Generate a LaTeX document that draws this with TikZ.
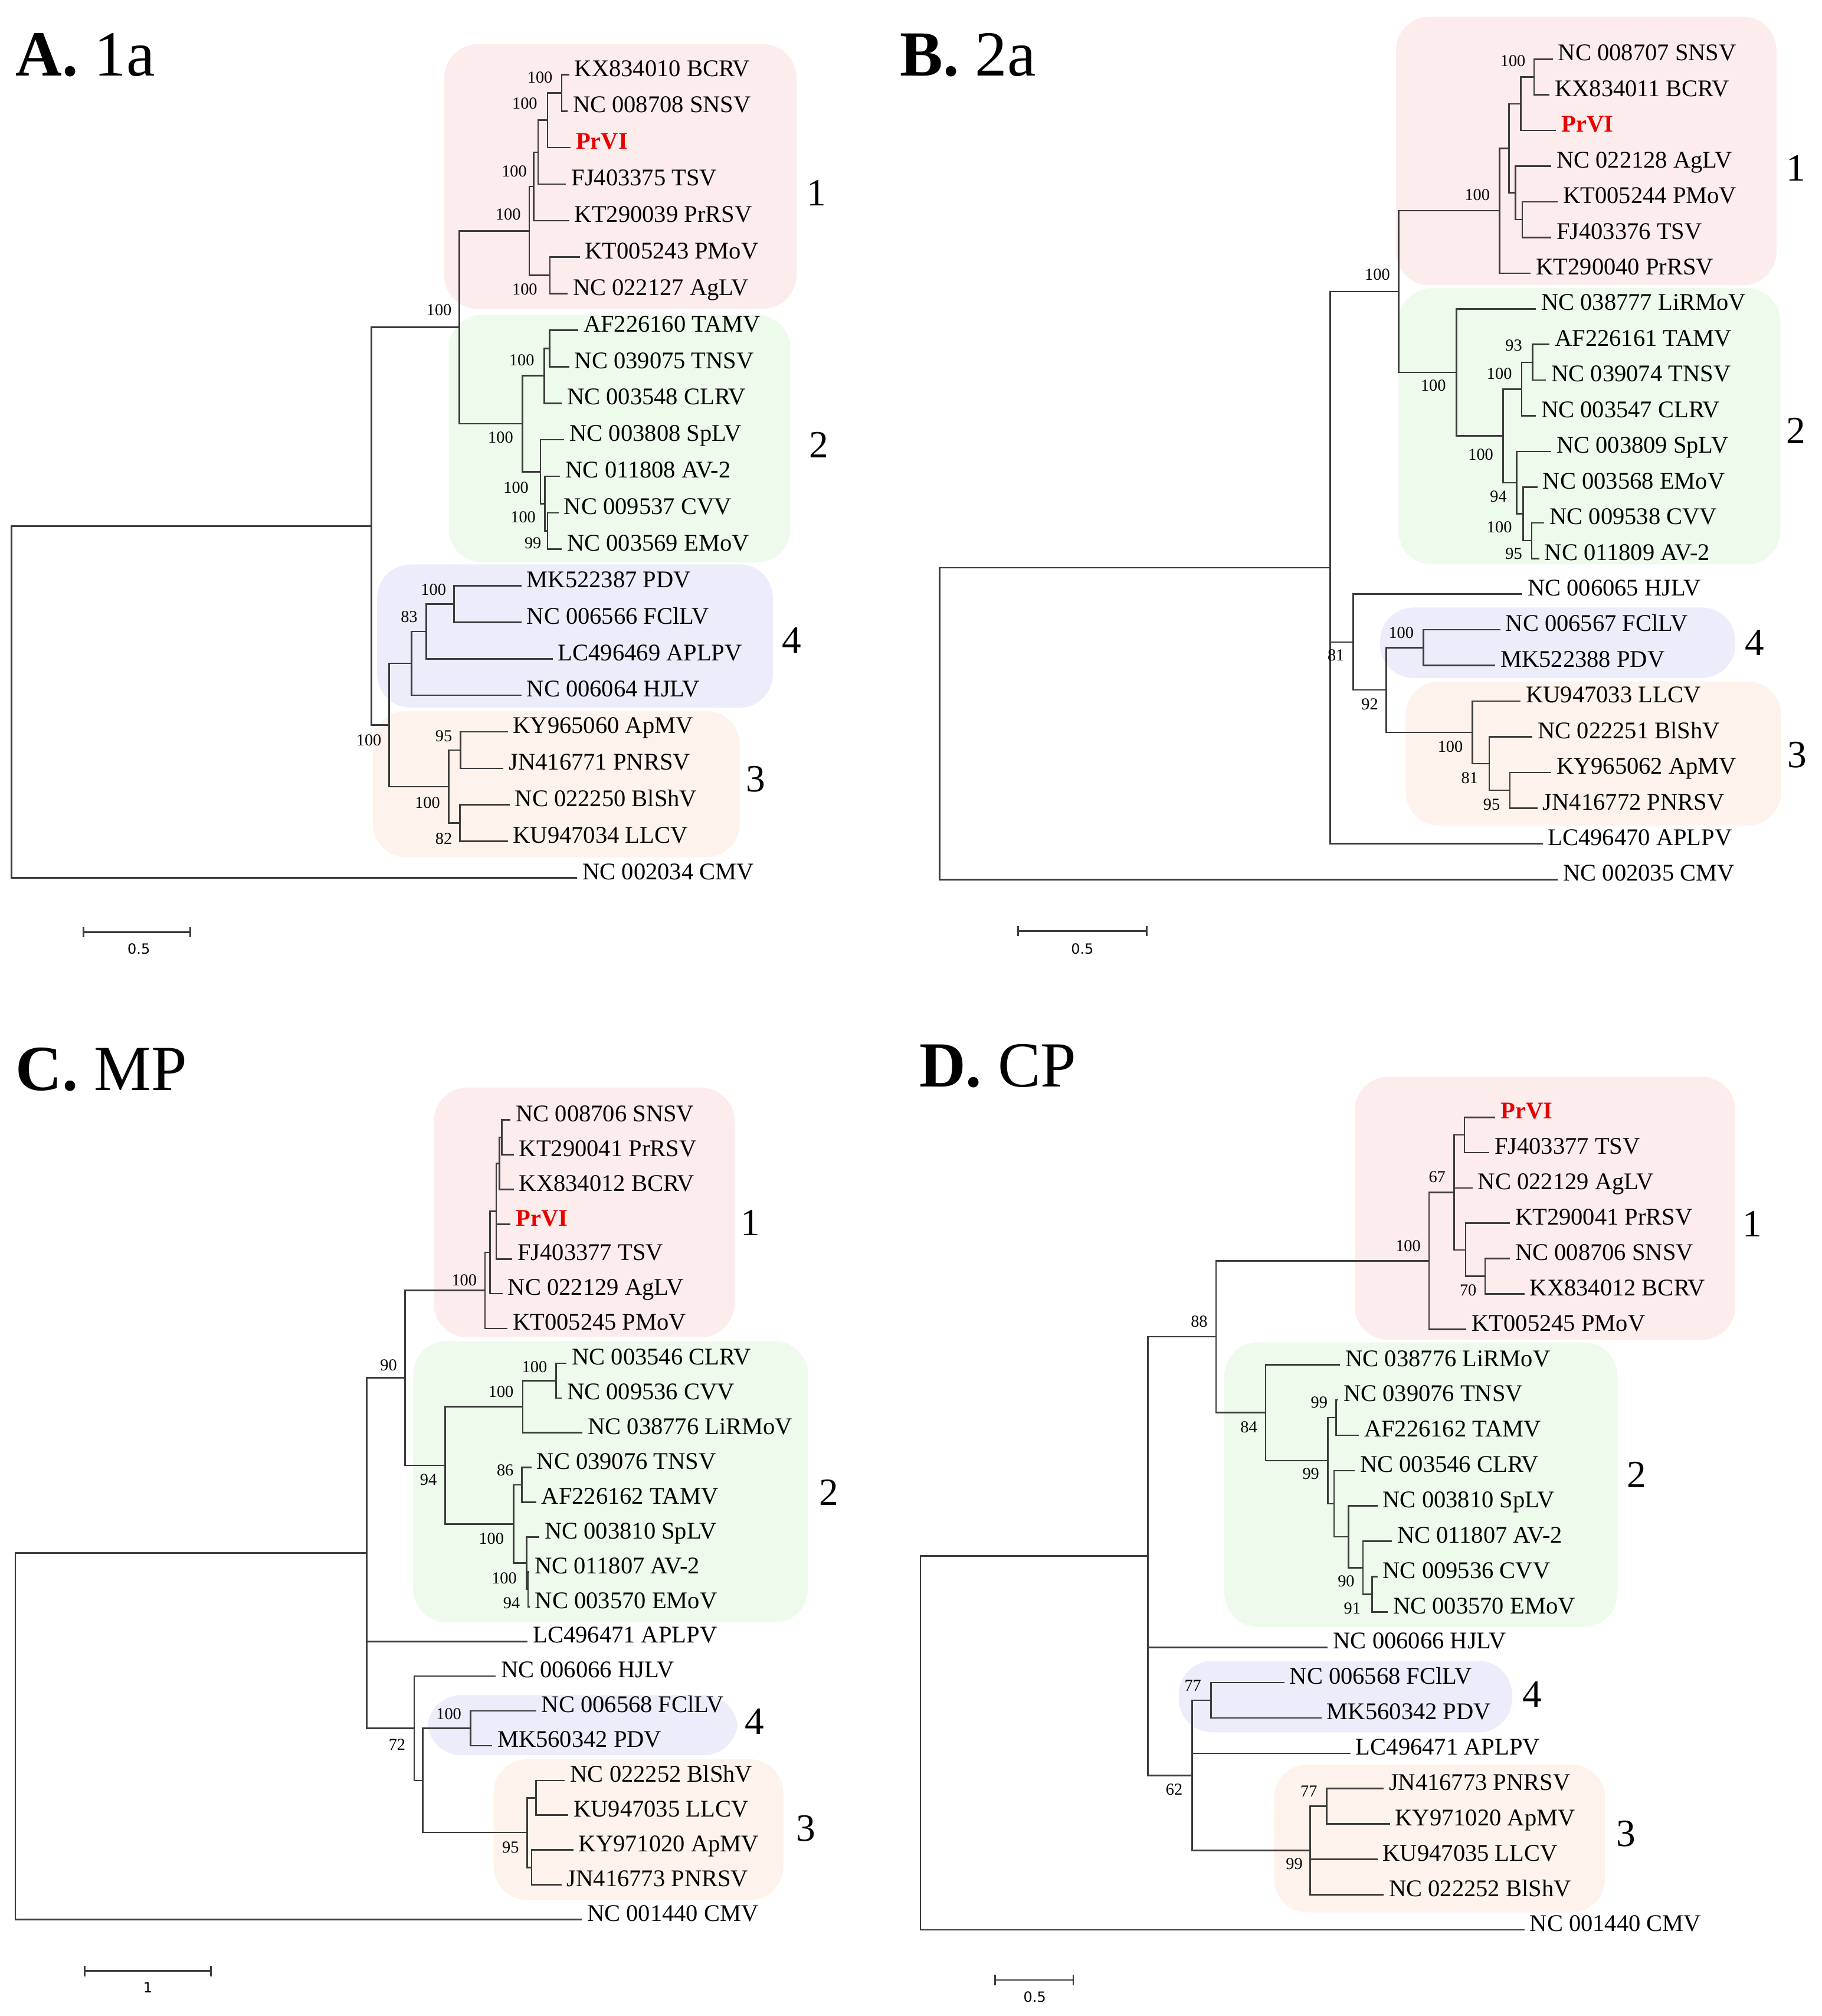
\documentclass[tikz,border=0pt]{standalone}
\usepackage{fontspec}
\setmainfont{Liberation Serif}
\newfontfamily\barfont{DejaVu Sans}
\definecolor{boxpink}{RGB}{253,236,236}
\definecolor{boxgreen}{RGB}{238,251,236}
\definecolor{boxlav}{RGB}{236,236,251}
\definecolor{boxpeach}{RGB}{253,243,236}
\definecolor{prvired}{RGB}{232,0,0}
\definecolor{branchgray}{RGB}{60,60,60}
\newcommand{\prvi}{\textcolor{prvired}{\bfseries PrVI}}
\tikzset{
  br/.style={draw=branchgray,line width=1.2pt},
  leaf/.style={anchor=west,inner xsep=4pt,inner ysep=0pt,text height=0.25em,text depth=0pt,font=\fontsize{18.6}{20}\selectfont},
  bs/.style={anchor=east,inner sep=0pt,font=\fontsize{13}{14}\selectfont},
  clade/.style={inner sep=0pt,font=\fontsize{30}{32}\selectfont},
  panel/.style={anchor=west,inner sep=0pt,font=\fontsize{50}{52}\selectfont},
  grp/.style={rounded corners=26pt},
  sbar/.style={inner sep=0pt,font=\barfont\fontsize{11}{12}\selectfont}
}
\begin{document}
\begin{tikzpicture}[x=1pt,y=-1pt]
\useasboundingbox (0,0) rectangle (1417,1568);
% group backgrounds
\fill[boxpink,grp](345.6,34.4)rectangle(619.6,240.2);
\fill[boxgreen,grp](349.1,244.8)rectangle(614.9,437.5);
\fill[boxlav,grp](293.4,439)rectangle(601.3,550.4);
\fill[boxpeach,grp](289.9,552.9)rectangle(575.5,666.8);
\fill[boxpink,grp](1086,13)rectangle(1382,221.8);
\fill[boxgreen,grp](1088,224)rectangle(1385,439);
\fill[boxlav,grp](1073.6,472.5)rectangle(1350,527.3);
\fill[boxpeach,grp](1093.5,530)rectangle(1385.8,642);
\fill[boxpink,grp](337.5,845.9)rectangle(571.4,1040);
\fill[boxgreen,grp](321.4,1043)rectangle(628.5,1262);
\fill[boxlav,grp](332.7,1318.4)rectangle(573.8,1365.1);
\fill[boxpeach,grp](384,1368.3)rectangle(609.4,1477.7);
\fill[boxpink,grp](1053.9,837.5)rectangle(1350,1042);
\fill[boxgreen,grp](952.5,1044)rectangle(1258.3,1265.3);
\fill[boxlav,grp](917,1291.8)rectangle(1176.3,1347.4);
\fill[boxpeach,grp](991.1,1372.4)rectangle(1248.7,1487.5);

% A. 1a
\node[panel](tA)at(12,43){\textbf{A.} 1a};
\foreach \i/\x/\t in {1/442.8/KX834010 BCRV,2/441.5/NC 008708 SNSV,3/443.8/\prvi,
  4/440.4/FJ403375 TSV,5/442.8/KT290039 PrRSV,6/451/KT005243 PMoV,7/441.5/NC 022127 AgLV,
  8/449.8/AF226160 TAMV,9/442.8/NC 039075 TNSV,10/437/NC 003548 CLRV,11/439/NC 003808 SpLV,
  12/435.8/NC 011808 AV-2,13/434.6/NC 009537 CVV,14/437/NC 003569 EMoV,15/405.6/MK522387 PDV,
  16/405.6/NC 006566 FClLV,17/430/LC496469 APLPV,18/405.6/NC 006064 HJLV,19/395/KY965060 ApMV,
  20/391.7/JN416771 PNRSV,21/396.4/NC 022250 BlShV,22/395/KU947034 LLCV,23/449/NC 002034 CMV}
  \node[leaf](A\i)at(\x,{58+28.4*(\i-1)}){\t};
\foreach \n/\x/\y in {Aa/437/72.2,Ab/426/93.5,Ac/418.7/118.4,Ad/415.3/145,Af/427.8/214.2,
  Ae/411.8/179.6,Ag/427.5/271,Ah/423.3/292.3,Ak/426/413,Aj/424/391.7,Ai/420.5/366.9,
  Al/406.5/329.6,Am/357.3/254.6,An/353.1/469.8,Ao/331.5/491.1,Ap/320.3/516,Aq/358.2/583.4,
  Ar/357.8/640.2,As/349/611.8,At/302.8/563.9,Au/289/409.3,Av/9/546}
  \coordinate(\n)at(\x,\y);
\foreach \p/\c in {Aa/A1.west,Aa/A2.west,Ab/Aa,Ab/A3.west,Ac/Ab,Ac/A4.west,Ad/Ac,Ad/A5.west,
  Af/A6.west,Af/A7.west,Ae/Ad,Ae/Af,Ag/A8.west,Ag/A9.west,Ah/Ag,Ah/A10.west,Ak/A13.west,
  Ak/A14.west,Aj/A12.west,Aj/Ak,Ai/A11.west,Ai/Aj,Al/Ah,Al/Ai,Am/Ae,Am/Al,An/A15.west,
  An/A16.west,Ao/An,Ao/A17.west,Ap/Ao,Ap/A18.west,Aq/A19.west,Aq/A20.west,Ar/A21.west,
  Ar/A22.west,As/Aq,As/Ar,At/Ap,At/As,Au/Am,Au/At,Av/Au,Av/A23.west}
  \draw[br](\p)|-(\c);
\foreach \k/\x/\y/\v in {1/430/60.4/100,2/418.2/80.3/100,3/410/133.1/100,4/405.3/166.7/100,
  5/418.2/224.9/100,6/351.5/240.9/100,7/415.8/280/100,8/399.4/340.4/100,9/411.4/379.4/100,
  10/416.9/402.3/100,11/421.3/422.2/99,12/347.2/458.6/100,13/325/479.8/83,14/296.9/575.9/100,
  15/351.9/572.5/95,16/342.5/624.3/100,17/351.9/652.4/82}
  \node[bs](Abs\k)at(\x,\y){\v};
\node[clade](Ag1)at(635,150){1};
\node[clade](Ag2)at(637,346){2};
\node[clade](Ag4)at(616,498){4};
\node[clade](Ag3)at(588,606){3};
\coordinate(sbA1)at(65,725);\coordinate(sbA2)at(148,725);
\draw[br](sbA1)--(sbA2);
\draw[br](65,721)--(65,729)(148,721)--(148,729);
\node[sbar](sbA)at(108,738){0.5};

% B. 2a
\node[panel](tB)at(700,43){\textbf{B.} 2a};
\foreach \i/\x/\t in {1/1208/NC 008707 SNSV,2/1205.4/KX834011 BCRV,3/1210.6/\prvi,
  4/1206.7/NC 022128 AgLV,5/1211.9/KT005244 PMoV,6/1206.7/FJ403376 TSV,7/1190.9/KT290040 PrRSV,
  8/1194.8/NC 038777 LiRMoV,9/1205.4/AF226161 TAMV,10/1202.7/NC 039074 TNSV,
  11/1194.8/NC 003547 CLRV,12/1206.7/NC 003809 SpLV,13/1196.1/NC 003568 EMoV,
  14/1201.4/NC 009538 CVV,15/1197.4/NC 011809 AV-2,16/1184.3/NC 006065 HJLV,
  17/1167.1/NC 006567 FClLV,18/1163.2/MK522388 PDV,19/1183/KU947033 LLCV,
  20/1192.2/NC 022251 BlShV,21/1206.7/KY965062 ApMV,22/1196.1/JN416772 PNRSV,
  23/1200.1/LC496470 APLPV,24/1211.9/NC 002035 CMV}
  \node[leaf](B\i)at(\x,{46+27.74*(\i-1)}){\t};
\foreach \n/\x/\y in {Ba/1193.5/59.9,Bb/1183/80.7,Bc/1184.3/170.8,Bd/1179/150,Be/1173.8/115.4,
  Bf/1166.6/163.9,Bg/1192.2/281.8,Bh/1183.8/302.6,Bi/1191.6/420.5,Bj/1184.8/399.7,
  Bk/1179.8/375.4,Bl/1169.3/339,Bm/1133/289.6,Bn/1088/226.8,Bo/1107.5/503.7,Bp/1174.6/614.7,
  Bq/1158.5/593.9,Br/1145.5/569.6,Bs/1078.4/536.6,Bt/1052.6/499.4,Bu/1034.9/441.5,Bv/731/562.8}
  \coordinate(\n)at(\x,\y);
\foreach \p/\c in {Ba/B1.west,Ba/B2.west,Bb/Ba,Bb/B3.west,Bc/B5.west,Bc/B6.west,Bd/B4.west,
  Bd/Bc,Be/Bb,Be/Bd,Bf/Be,Bf/B7.west,Bg/B9.west,Bg/B10.west,Bh/Bg,Bh/B11.west,Bi/B14.west,
  Bi/B15.west,Bj/B13.west,Bj/Bi,Bk/B12.west,Bk/Bj,Bl/Bh,Bl/Bk,Bm/B8.west,Bm/Bl,Bn/Bf,Bn/Bm,
  Bo/B17.west,Bo/B18.west,Bp/B21.west,Bp/B22.west,Bq/B20.west,Bq/Bp,Br/B19.west,Br/Bq,
  Bs/Bo,Bs/Br,Bt/B16.west,Bt/Bs,Bu/Bn,Bu/Bt,Bu/B23.west,Bv/Bu,Bv/B24.west}
  \draw[br](\p)|-(\c);
\foreach \k/\x/\y/\v in {1/1186.9/47.4/100,2/1159.2/151.4/100,3/1081.5/213.4/100,
  4/1184.3/268.5/93,5/1176.4/290.6/100,6/1125/299.8/100,7/1161.9/353.4/100,8/1172.4/386.3/94,
  9/1176.4/410/100,10/1184.3/430.6/95,11/1046/509.4/81,12/1100/492.2/100,13/1072.3/547.9/92,
  14/1138.2/580.7/100,15/1150/605.3/81,16/1167.1/625.8/95}
  \node[bs](Bbs\k)at(\x,\y){\v};
\node[clade](Bg1)at(1397,131){1};
\node[clade](Bg2)at(1397,335){2};
\node[clade](Bg4)at(1365,500){4};
\node[clade](Bg3)at(1398,587){3};
\coordinate(sbB1)at(792,724);\coordinate(sbB2)at(892,724);
\draw[br](sbB1)--(sbB2);
\draw[br](792,720)--(792,728)(892,720)--(892,728);
\node[sbar](sbB)at(842,738){0.5};

% C. MP
\node[panel](tC)at(12,832){\textbf{C.} MP};
\foreach \i/\x/\t in {1/397.2/NC 008706 SNSV,2/399.7/KT290041 PrRSV,3/399.7/KX834012 BCRV,
  4/397.2/\prvi,5/398.5/FJ403377 TSV,6/391/NC 022129 AgLV,7/394.8/KT005245 PMoV,
  8/440.8/NC 003546 CLRV,9/437/NC 009536 CVV,10/453.2/NC 038776 LiRMoV,11/413.4/NC 039076 TNSV,
  12/417.1/AF226162 TAMV,13/419.6/NC 003810 SpLV,14/411.7/NC 011807 AV-2,15/412.1/NC 003570 EMoV,
  16/410.5/LC496471 APLPV,17/385.5/NC 006066 HJLV,18/417.1/NC 006568 FClLV,
  19/382.8/MK560342 PDV,20/439.5/NC 022252 BlShV,21/442.1/KU947035 LLCV,
  22/446/KY971020 ApMV,23/436.8/JN416773 PNRSV,24/452.6/NC 001440 CMV}
  \node[leaf](C\i)at(\x,{871+27.04*(\i-1)}){\t};
\foreach \n/\x/\y in {Ca/390.3/884.5,Cb/388.5/904.8,Cc/386.1/942,Cd/381.1/974.1,Ce/377.3/1003.7,
  Cf/432.6/1073.8,Cg/406.7/1094.1,Ch/406/1154.9,Cj/410.9/1236,Ci/409.7/1215.7,Ck/399.7/1185.3,
  Cl/346.3/1139.7,Cm/315.2/1071.7,Co/366.2/1344.2,Cp/417.1/1398.3,Cq/413.6/1452.4,
  Cr/410/1425.3,Cs/328.8/1384.8,Ct/322.2/1344.2,Cn/285.3/1208,Cu/12/1350.4}
  \coordinate(\n)at(\x,\y);
\foreach \p/\c in {Ca/C1.west,Ca/C2.west,Cb/Ca,Cb/C3.west,Cc/Cb,Cc/C4.west,Cc/C5.west,
  Cd/Cc,Cd/C6.west,Ce/Cd,Ce/C7.west,Cf/C8.west,Cf/C9.west,Cg/Cf,Cg/C10.west,Ch/C11.west,
  Ch/C12.west,Cj/C14.west,Cj/C15.west,Ci/C13.west,Ci/Cj,Ck/Ch,Ck/Ci,Cl/Cg,Cl/Ck,Cm/Ce,Cm/Cl,
  Co/C18.west,Co/C19.west,Cp/C20.west,Cp/C21.west,Cq/C22.west,Cq/C23.west,Cr/Cp,Cr/Cq,
  Cs/Co,Cs/Cr,Ct/C17.west,Ct/Cs,Cn/Cm,Cn/C16.west,Cn/Ct,Cu/Cn,Cu/C24.west}
  \draw[br](\p)|-(\c);
\foreach \k/\x/\y/\v in {1/371.1/995.9/100,2/425.8/1063.2/100,3/399.7/1082.5/100,
  4/399.7/1143.7/86,5/340/1150.9/94,6/392.2/1196.8/100,7/402.2/1227.4/100,8/404.7/1246.8/94,
  9/309/1061.6/90,10/359.1/1332.9/100,11/315.6/1357.1/72,12/403.9/1436.8/95}
  \node[bs](Cbs\k)at(\x,\y){\v};
\node[clade](Cg1)at(584,951){1};
\node[clade](Cg2)at(645,1161){2};
\node[clade](Cg4)at(587,1339){4};
\node[clade](Cg3)at(627,1422){3};
\coordinate(sbC1)at(66,1533);\coordinate(sbC2)at(164,1533);
\draw[br](sbC1)--(sbC2);
\draw[br](66,1529)--(66,1537)(164,1529)--(164,1537);
\node[sbar](sbC)at(115,1546){1};

% D. CP
\node[panel](tD)at(715,829){\textbf{D.} CP};
\foreach \i/\x/\t in {1/1163.3/\prvi,2/1158.5/FJ403377 TSV,3/1145.6/NC 022129 AgLV,
  4/1174.6/KT290041 PrRSV,5/1174.6/NC 008706 SNSV,6/1185.9/KX834012 BCRV,7/1140.8/KT005245 PMoV,
  8/1042.6/NC 038776 LiRMoV,9/1041/NC 039076 TNSV,10/1057.1/AF226162 TAMV,
  11/1053.9/NC 003546 CLRV,12/1071.6/NC 003810 SpLV,13/1082.8/NC 011807 AV-2,
  14/1071.6/NC 009536 CVV,15/1079.6/NC 003570 EMoV,16/1033/NC 006066 HJLV,
  17/999.1/NC 006568 FClLV,18/1028.1/MK560342 PDV,19/1050.6/LC496471 APLPV,
  20/1076.4/JN416773 PNRSV,21/1081.2/KY971020 ApMV,22/1071.6/KU947035 LLCV,
  23/1076.4/NC 022252 BlShV,24/1185.9/NC 001440 CMV}
  \node[leaf](D\i)at(\x,{869+27.48*(\i-1)}){\t};
\foreach \n/\x/\y in {Da/1139.2/882.7,Db/1155.3/992.7,Dc/1140.2/972.1,Dd/1131.1/927.4,
  De/1111.8/980.6,Df/1039.4/1102.6,Dg/1067.4/1240,Dh/1060.3/1219.4,Di/1049/1195.3,
  Dj/1037.8/1169.6,Dk/1033/1136.1,Dl/984.6/1098.7,Dm/946/1039.7,Dn/942.1/1322.4,
  Do/1032/1404.9,Dp/1019.1/1439.2,Dq/927.4/1380.8,Dr/892.9/1210.3,Ds/716/1355.7}
  \coordinate(\n)at(\x,\y);
\foreach \p/\c in {Da/D1.west,Da/D2.west,Db/D5.west,Db/D6.west,Dc/D4.west,Dc/Db,Dd/Da,
  Dd/D3.west,Dd/Dc,De/Dd,De/D7.west,Df/D9.west,Df/D10.west,Dg/D14.west,Dg/D15.west,
  Dh/D13.west,Dh/Dg,Di/D12.west,Di/Dh,Dj/D11.west,Dj/Di,Dk/Df,Dk/Dj,Dl/D8.west,Dl/Dk,
  Dm/De,Dm/Dl,Dn/D17.west,Dn/D18.west,Do/D20.west,Do/D21.west,Dp/Do,Dp/D22.west,Dp/D23.west,
  Dq/Dn,Dq/D19.west,Dq/Dp,Dr/Dm,Dr/D16.west,Dr/Dq,Ds/Dr,Ds/D24.west}
  \draw[br](\p)|-(\c);
\foreach \k/\x/\y/\v in {1/1124.7/915.6/67,2/1148.8/1003.5/70,3/1105.4/969.1/100,
  4/939.6/1028/88,5/1033/1090.6/99,6/978.2/1109.9/84,7/1026.5/1146.1/99,8/1053.9/1229.8/90,
  9/1058.7/1250.8/91,10/934.7/1311.2/77,11/920.2/1391.7/62,12/1024.9/1393.3/77,
  13/1013.6/1449.7/99}
  \node[bs](Dbs\k)at(\x,\y){\v};
\node[clade](Dg1)at(1363,952){1};
\node[clade](Dg2)at(1273,1147){2};
\node[clade](Dg4)at(1192,1318){4};
\node[clade](Dg3)at(1265,1426){3};
\coordinate(sbD1)at(774,1540);\coordinate(sbD2)at(835,1540);
\draw[br](sbD1)--(sbD2);
\draw[br](774,1536)--(774,1544)(835,1536)--(835,1544);
\node[sbar](sbD)at(805,1553){0.5};
\end{tikzpicture}
\end{document}
